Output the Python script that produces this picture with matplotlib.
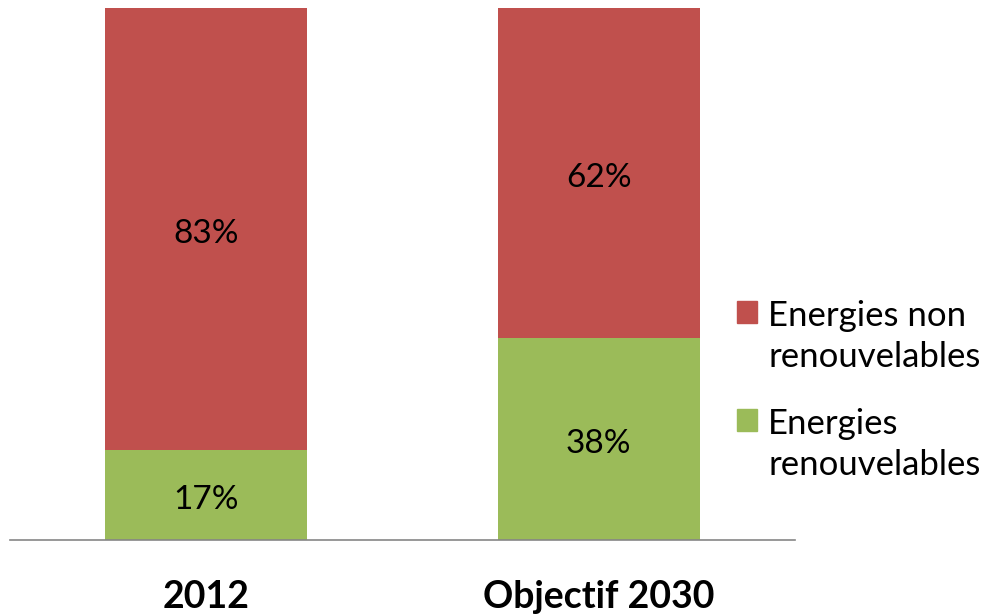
import matplotlib.pyplot as plt
from matplotlib.patches import Patch, Rectangle
from matplotlib.legend_handler import HandlerPatch

categories = ["2012", "Objectif 2030"]
renouvelables = [17, 38]
non_renouvelables = [83, 62]
labels = ["Energies non\nrenouvelables", "Energies\nrenouvelables"]

red = "#C0504D"
green = "#9BBB59"

plt.rcParams["font.family"] = ["Lato", "DejaVu Sans"]

fig = plt.figure(figsize=(9.86, 6.16), dpi=100)
ax = fig.add_axes([10 / 986, 76 / 616, 785 / 986, 532 / 616])

x = range(len(categories))
ax.bar(x, renouvelables, width=0.515, color=green)
ax.bar(x, non_renouvelables, width=0.515, bottom=renouvelables, color=red)

for i in x:
    ax.annotate(f"{renouvelables[i]}%", (i, renouvelables[i] / 2),
                xytext=(0, -3.5), textcoords="offset points",
                ha="center", va="center", fontsize=24)
    ax.annotate(f"{non_renouvelables[i]}%", (i, renouvelables[i] + non_renouvelables[i] / 2),
                xytext=(0, -3.5), textcoords="offset points",
                ha="center", va="center", fontsize=24)

ax.set_xlim(-0.5, 1.5)
ax.set_ylim(0, 100)
ax.set_xticks(list(x))
ax.set_xticklabels(categories, fontsize=27, fontweight="bold")
ax.tick_params(axis="x", length=0, pad=29)
ax.set_yticks([])
for s in ["top", "left", "right"]:
    ax.spines[s].set_visible(False)
ax.spines["bottom"].set_color("#868686")
ax.spines["bottom"].set_linewidth(1.2)


# square on the first line of the two-line labels
def top_square(legend, orig_handle, xdescent, ydescent, width, height, fontsize):
    return Rectangle((-xdescent, -ydescent + 0.72 * fontsize), width, height)


handles = [Patch(color=red), Patch(color=green)]
leg = fig.legend(handles, labels, loc="upper left", bbox_to_anchor=(737 / 986, 1 - 300 / 616),
                 frameon=False, fontsize=25, handlelength=0.58, handleheight=0.58,
                 handletextpad=0.32, labelspacing=1.0, borderaxespad=0, borderpad=0,
                 handler_map={Patch: HandlerPatch(patch_func=top_square)})
for t in leg.get_texts():
    t.set_linespacing(1.35)

fig.savefig("out.png", dpi=100)
